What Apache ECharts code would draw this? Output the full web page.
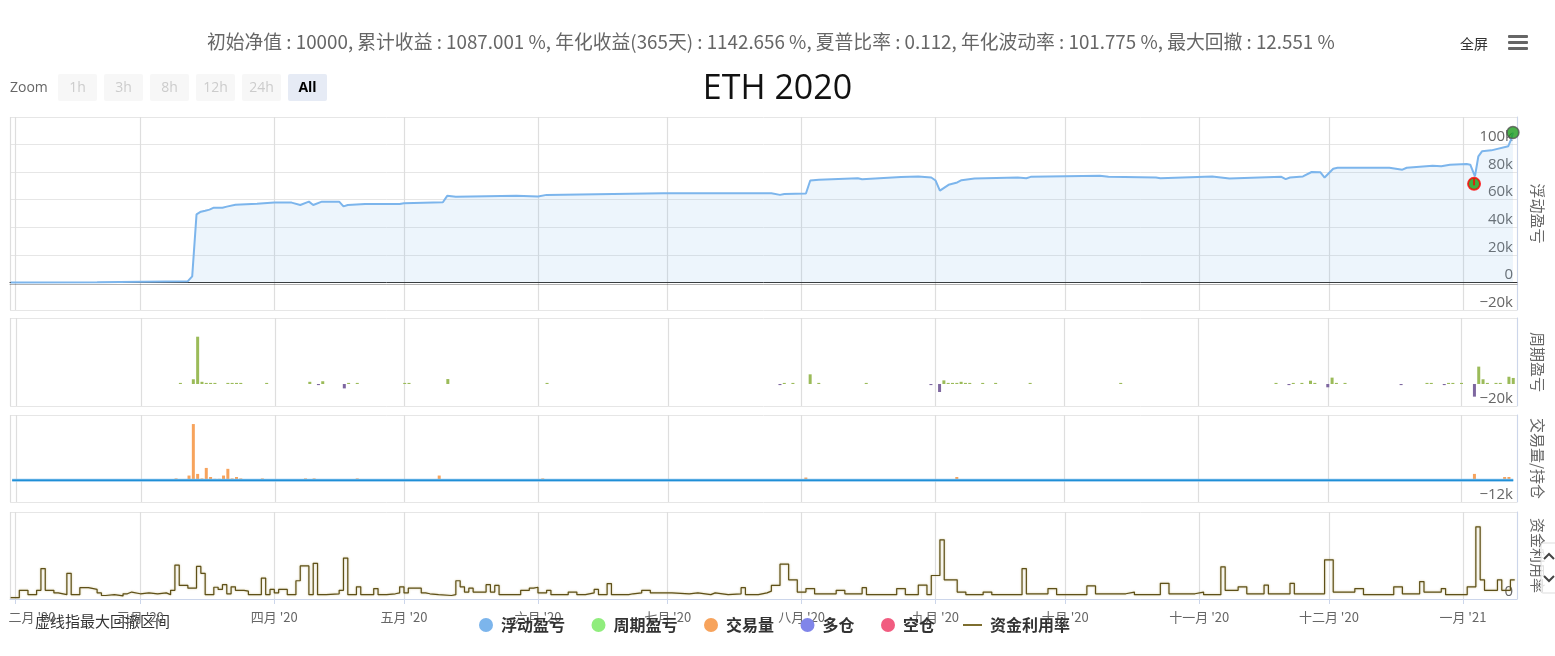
<!DOCTYPE html>
<html><head><meta charset="utf-8">
<script src="https://cdn.jsdelivr.net/npm/echarts/dist/echarts.min.js"></script>
<style>html,body{margin:0;padding:0;background:#fff}#c{width:1555px;height:656px}</style>
</head><body><div id="c"></div>
<script>
const FONT = '"Open Sans","Noto Sans CJK SC",sans-serif';
const CJK = '"Noto Sans CJK SC","Open Sans",sans-serif';
const MONTH_NAMES = ['一月','二月','三月','四月','五月','六月','七月','八月','九月','十月','十一月','十二月'];
const SUBTITLE = '初始净值 : 10000, 累计收益 : 1087.001 %, 年化收益(365天) : 1142.656 %, 夏普比率 : 0.112, 年化波动率 : 101.775 %, 最大回撤 : 12.551 %';
const TITLE = 'ETH 2020';
const NOTE = '虚线指最大回撤区间';
const ZOOM_BUTTONS = ['1h','3h','8h','12h','24h','All'];
const X_MIN = '2020-01-30 20:15';
const X_MAX = '2021-01-13 12:30';

// 浮动盈亏 (floating P&L)
const EQUITY_DATES = [
 '2020-01-31','2020-02-20','2020-03-12','2020-03-13','2020-03-14','2020-03-15','2020-03-16','2020-03-17','2020-03-18','2020-03-20',
 '2020-03-21','2020-03-23','2020-03-28','2020-04-01','2020-04-05','2020-04-07','2020-04-09','2020-04-10','2020-04-12','2020-04-16',
 '2020-04-17','2020-04-18','2020-04-22','2020-04-30','2020-05-01','2020-05-10','2020-05-11','2020-05-13','2020-05-27','2020-06-01',
 '2020-06-03','2020-06-30','2020-07-25','2020-07-27','2020-07-28','2020-08-02','2020-08-03','2020-08-05','2020-08-14','2020-08-15',
 '2020-08-24','2020-08-28','2020-08-31','2020-09-01','2020-09-02','2020-09-04','2020-09-06','2020-09-07','2020-09-10','2020-09-20',
 '2020-09-22','2020-09-23','2020-10-09','2020-10-11','2020-10-22','2020-10-23','2020-11-04','2020-11-08','2020-11-20','2020-11-21',
 '2020-11-22','2020-11-25','2020-11-27','2020-11-29','2020-11-30','2020-12-02','2020-12-03','2020-12-15','2020-12-18','2020-12-19',
 '2020-12-25','2020-12-27','2020-12-29','2021-01-01 21:00','2021-01-02 17:00','2021-01-03 19:00','2021-01-04 14:00','2021-01-05 10:00','2021-01-07 14:00','2021-01-11 12:00',
 '2021-01-12 04:00','2021-01-12 14:00'];
const EQUITY_VALUES = [
 0,200,900,4400,49400,51300,52000,52800,54200,54200,
 55000,56400,57100,57900,57900,56200,58600,56200,58600,58600,
 55200,56200,56900,56900,57400,58200,62800,62100,62800,62300,
 63500,64700,64700,63500,64200,64500,73900,74400,75600,74900,
 76400,76900,76100,73900,66600,70800,72500,74200,75400,76100,
 75600,76600,77400,76600,76100,75600,76900,75400,76600,74900,
 76100,76900,80100,80000,76100,82500,83200,83200,81800,83200,
 84700,84200,85400,85900,85400,77000,91500,95100,95800,98800,
 103700,108700];

// max drawdown markers
const MARKER_DATES = ['2021-01-03 14:00','2021-01-12 14:00'];
const MARKER_VALUES = [71500,108700];

// 周期盈亏 (period P&L)
const PNL_DATES = [
 '2020-03-10','2020-03-13','2020-03-14','2020-03-15','2020-03-16','2020-03-17','2020-03-18','2020-03-21','2020-03-22','2020-03-23',
 '2020-03-24','2020-03-30','2020-04-09','2020-04-11','2020-04-12','2020-04-17','2020-04-18','2020-04-20','2020-05-01','2020-05-02',
 '2020-05-11','2020-06-03','2020-07-27','2020-07-28','2020-07-30','2020-08-03','2020-08-05','2020-08-16','2020-08-31','2020-09-02',
 '2020-09-03','2020-09-04','2020-09-05','2020-09-06','2020-09-07','2020-09-08','2020-09-09','2020-09-12','2020-09-15','2020-09-23',
 '2020-10-14','2020-11-19','2020-11-22','2020-11-23','2020-11-25','2020-11-27','2020-11-28','2020-12-01','2020-12-02','2020-12-03',
 '2020-12-05','2020-12-18','2020-12-24','2020-12-25','2020-12-28','2020-12-29','2020-12-30','2021-01-01','2021-01-04','2021-01-05',
 '2021-01-06','2021-01-07','2021-01-09','2021-01-10','2021-01-12','2021-01-13'];
const PNL_VALUES = [
 1000,4300,43000,2000,1000,1000,1000,1000,1000,1000,
 1000,1000,2000,-1000,2500,-4000,1000,1000,1000,1000,
 4500,1000,-1000,1000,1000,8800,1000,1000,-1000,-7300,
 3300,1000,1000,1000,2000,1000,1000,1000,1000,1000,
 1000,1000,-1000,1000,1000,3000,1000,-3000,5800,1000,
 1000,-1000,1000,1000,-1000,1000,1000,1000,-11500,15800,
 4300,1000,1000,1000,6600,5500];

// 交易量 (volume)
const VOL_DATES = [
 '2020-02-17','2020-02-27','2020-03-09','2020-03-12','2020-03-13','2020-03-14','2020-03-15','2020-03-16','2020-03-17','2020-03-18',
 '2020-03-19','2020-03-20','2020-03-21','2020-03-22','2020-03-23','2020-03-24','2020-03-25','2020-03-26','2020-03-27','2020-03-28',
 '2020-03-29','2020-03-30','2020-04-02','2020-04-03','2020-04-06','2020-04-07','2020-04-08','2020-04-09','2020-04-10','2020-04-11',
 '2020-04-12','2020-04-13','2020-04-15','2020-04-16','2020-04-19','2020-04-20','2020-04-23','2020-04-27','2020-04-30','2020-05-01',
 '2020-05-04','2020-05-05','2020-05-07','2020-05-08','2020-05-09','2020-05-10','2020-05-11','2020-05-13','2020-05-15','2020-05-16',
 '2020-05-20','2020-05-21','2020-05-23','2020-05-25','2020-05-31','2020-06-01','2020-06-02','2020-06-09','2020-06-12','2020-06-15',
 '2020-06-16','2020-06-24','2020-06-28','2020-07-23','2020-07-26','2020-07-27','2020-07-28','2020-08-02','2020-08-03','2020-08-04',
 '2020-08-08','2020-08-12','2020-08-16','2020-08-17','2020-08-18','2020-08-19','2020-08-20','2020-08-22','2020-08-25','2020-08-26',
 '2020-09-02','2020-09-03','2020-09-04','2020-09-05','2020-09-06','2020-09-07','2020-09-08','2020-09-09','2020-09-13','2020-09-14',
 '2020-09-16','2020-09-17','2020-09-21','2020-09-22','2020-09-24','2020-10-02','2020-10-07','2020-10-27','2020-10-30','2020-11-05',
 '2020-11-06','2020-11-07','2020-11-08','2020-11-18','2020-11-22','2020-11-23','2020-11-24','2020-11-26','2020-11-27','2020-12-01',
 '2020-12-05','2020-12-08','2020-12-11','2020-12-18','2020-12-21','2020-12-23','2020-12-28','2020-12-29','2021-01-01','2021-01-02',
 '2021-01-04','2021-01-05','2021-01-06','2021-01-07','2021-01-08','2021-01-09','2021-01-11','2021-01-12'];
const VOL_VALUES = [
 700,700,1000,2600,31000,3500,1000,6800,1800,800,
 800,2600,6300,1000,1800,1000,700,700,700,700,
 1000,700,700,700,700,700,1000,700,1000,700,
 700,700,700,700,700,1000,700,700,700,700,
 700,700,700,700,2600,700,700,700,700,700,
 700,700,700,700,700,700,1000,700,700,700,
 700,700,700,700,700,700,700,1500,700,700,
 700,700,700,700,700,700,700,700,700,700,
 700,700,700,700,1800,700,700,700,700,700,
 700,700,700,700,700,700,700,700,700,700,
 700,700,700,700,700,700,700,700,700,700,
 700,700,700,700,700,700,700,700,700,700,
 3500,700,700,700,700,700,1800,1800];

// 多仓 / 空仓 (positions)
const POS_DATES = ['2020-01-31','2021-01-13'];
const LONG_POS = [0,0];
const SHORT_POS = [0,0];

// 资金利用率 (capital utilisation, %)
const UTIL_DATES = [
 '2020-01-31','2020-02-02','2020-02-04','2020-02-06','2020-02-07','2020-02-08','2020-02-10','2020-02-11','2020-02-13','2020-02-14',
 '2020-02-16','2020-02-18','2020-02-20','2020-02-21','2020-02-22','2020-02-24','2020-02-26','2020-02-27','2020-02-28','2020-03-01',
 '2020-03-03','2020-03-05','2020-03-07','2020-03-08','2020-03-09','2020-03-10','2020-03-12','2020-03-14','2020-03-15','2020-03-16',
 '2020-03-18','2020-03-19','2020-03-20','2020-03-21','2020-03-22','2020-03-23','2020-03-25','2020-03-26','2020-03-29','2020-03-30',
 '2020-03-31','2020-04-01','2020-04-02','2020-04-04','2020-04-06','2020-04-07','2020-04-09','2020-04-10','2020-04-11','2020-04-13',
 '2020-04-16','2020-04-17','2020-04-18','2020-04-20','2020-04-21','2020-04-24','2020-04-25','2020-04-27','2020-04-29','2020-04-30',
 '2020-05-01','2020-05-02','2020-05-05','2020-05-06','2020-05-07','2020-05-09','2020-05-12','2020-05-13','2020-05-14','2020-05-15',
 '2020-05-16','2020-05-17','2020-05-20','2020-05-21','2020-05-22','2020-05-23','2020-05-28','2020-05-30','2020-05-31','2020-06-01',
 '2020-06-03','2020-06-04','2020-06-08','2020-06-10','2020-06-12','2020-06-14','2020-06-15','2020-06-17','2020-06-18','2020-06-22',
 '2020-06-23','2020-06-25','2020-06-27','2020-07-02','2020-07-06','2020-07-08','2020-07-11','2020-07-12','2020-07-15','2020-07-18',
 '2020-07-19','2020-07-22','2020-07-24','2020-07-25','2020-07-27','2020-07-29','2020-07-31','2020-08-02','2020-08-04','2020-08-09',
 '2020-08-11','2020-08-15','2020-08-16','2020-08-23','2020-08-25','2020-08-28','2020-08-30','2020-08-31','2020-09-02','2020-09-03',
 '2020-09-06','2020-09-08','2020-09-12','2020-09-14','2020-09-21','2020-09-22','2020-09-27','2020-09-29','2020-10-06','2020-10-08',
 '2020-10-15','2020-10-17','2020-10-23','2020-10-25','2020-10-31','2020-11-02','2020-11-06','2020-11-07','2020-11-10','2020-11-12',
 '2020-11-16','2020-11-17','2020-11-22','2020-11-23','2020-11-30','2020-12-02','2020-12-07','2020-12-09','2020-12-16','2020-12-18',
 '2020-12-22','2020-12-23','2020-12-27','2020-12-28','2021-01-02','2021-01-04','2021-01-05','2021-01-06','2021-01-09','2021-01-10',
 '2021-01-12','2021-01-13'];
const UTIL_VALUES = [
 1.5,10,5,10,35,10,7,5,29.5,5,
 13,11,7,4,5,3.5,6,8,6,7,
 6,7,5,10,39,15.6,12.5,37.5,29.5,5,
 13.5,11,16.5,6,14,10,9,5,24,5,
 11,7,11,5,21,38,5,41,5,6,
 10,47,5,14,5,12,5,6,7,14,
 7,12.5,7,6,5,4,5,21,14,8,
 12.5,8,16.5,8,15.6,5,10,12.5,13.5,7,
 10,5,8,5,7,11,5,17.7,5,6,
 7,10,7,6,7,5,7,5,6,13,
 5,7,9,15.6,40,22,8,12,6,10,
 6,13,5,12,5,16,5,27,68,22,
 8,5,8,5,35,6,12,5,15,6,
 8,5,18,6,8,5,37,10,14,6,
 16,6,18,6,45,8,12,5,14,6,
 20,8,12,5,14,83,22,10,22,10,
 22,22];

const pairs = (ds, vs) => ds.map((d, i) => [d, vs[i]]);
const kFmt = v => v === 0 ? '0' : (v < 0 ? '−' : '') + Math.abs(v) / 1000 + 'k';
const FIRST_TICK = new Date('2020-02-01 00:00').getTime();
const monthFmt = v => {
  const d = new Date(v);
  const s = MONTH_NAMES[d.getMonth()] + " '" + String(d.getFullYear()).slice(2);
  return Math.abs(v - FIRST_TICK) < 864e5 ? '{first|' + s + '}' : s;
};

const GRIDS = [
  {top: 117, height: 193},
  {top: 318, height: 88},
  {top: 415, height: 87},
  {top: 512, height: 87}
];
const Y_SPECS = [
  {min: -20000, max: 120000, interval: 20000, name: '浮动盈亏'},
  {min: -20000, max: 60000, interval: 20000, name: '周期盈亏'},
  {min: -12000, max: 36000, interval: 12000, name: '交易量/持仓'},
  {min: 0, max: 100, interval: 100, name: '资金利用率'}
];
const T = 'rgba(0,0,0,0)';
const SPLIT_COLORS = [
  '#e6e6e6',
  ['#e6e6e6', T, T, T, '#e6e6e6'],
  ['#e6e6e6', T, T, T, '#e6e6e6'],
  '#e6e6e6'
];

const xAxes = GRIDS.map((g, i) => ({
  type: 'time', gridIndex: i, min: X_MIN, max: X_MAX,
  minInterval: 28 * 864e5, maxInterval: 31 * 864e5,
  splitLine: {show: true, lineStyle: {color: '#dedede', width: 1.2}},
  axisTick: {show: i === 3, length: 5, lineStyle: {color: '#ccd6eb'}},
  axisLabel: {show: i === 3, formatter: monthFmt, color: '#666', fontSize: 13, margin: 12, fontFamily: CJK, hideOverlap: false,
    rich: {first: {padding: [0, 0, 0, 34], color: '#666', fontSize: 13, fontFamily: CJK}}},
  axisLine: i === 0 ? {show: true, onZero: true, lineStyle: {color: '#333', width: 1, shadowColor: 'rgba(0,0,0,0.3)', shadowOffsetY: 2}}
          : i === 3 ? {show: true, lineStyle: {color: '#ccd6eb', width: 1}}
          : {show: false}
}));

const yAxes = Y_SPECS.map((s, i) => ({
  type: 'value', gridIndex: i, position: 'right', min: s.min, max: s.max, interval: s.interval,
  splitLine: {show: true, lineStyle: {color: SPLIT_COLORS[i], width: 1}},
  axisLine: {show: true, onZero: false, lineStyle: {color: '#ccd6eb'}},
  axisTick: {show: false},
  axisLabel: {
    inside: true, margin: 4, color: '#666', fontSize: 15, fontFamily: FONT, verticalAlign: 'bottom',
    showMaxLabel: false,
    formatter: v => (i === 0 || v === s.min) ? kFmt(v) : ''
  },
  name: s.name, nameLocation: 'middle', nameRotate: -90, nameGap: 13,
  nameTextStyle: {color: '#666', fontSize: 15, fontFamily: CJK}
}));

const graphic = [
  {type: 'text', x: 10, y: 88, style: {text: 'Zoom', fill: '#666', font: '14px ' + FONT, verticalAlign: 'middle'}}
];
ZOOM_BUTTONS.forEach((b, i) => {
  const x = 58 + i * 46, sel = b === 'All';
  graphic.push({type: 'rect', shape: {x: x, y: 74, width: 39, height: 27, r: 2}, style: {fill: sel ? '#e6ebf5' : '#f7f7f7'}});
  graphic.push({type: 'text', x: x + 19.5, y: 88, style: {text: b, fill: sel ? '#000' : '#cccccc', font: (sel ? 'bold ' : '') + '14px ' + FONT, align: 'center', verticalAlign: 'middle'}});
});
graphic.push({type: 'text', x: 1474, y: 44, style: {text: '全屏', fill: '#333', font: '14px ' + CJK, align: 'center', verticalAlign: 'middle'}});
[0, 1, 2].forEach(k => graphic.push({type: 'rect', shape: {x: 1508, y: 35 + k * 6, width: 20, height: 3, r: 1}, style: {fill: '#666'}}));
graphic.push({type: 'text', x: 35, y: 621, style: {text: NOTE, fill: '#333', font: '15px ' + CJK, verticalAlign: 'middle'}});
graphic.push({type: 'rect', shape: {x: 1541, y: 543, width: 16, height: 50, r: 2}, style: {fill: 'rgba(255,255,255,0.8)', stroke: '#ddd'}, z: 100});
graphic.push({type: 'polyline', shape: {points: [[1544, 559], [1549, 554], [1554, 559]]}, style: {stroke: '#444', lineWidth: 2, fill: null}, z: 101});
graphic.push({type: 'polyline', shape: {points: [[1544, 576], [1549, 581], [1554, 576]]}, style: {stroke: '#444', lineWidth: 2, fill: null}, z: 101});

const LEGEND_TEXT = {fontSize: 16, fontWeight: 'bold', color: '#333', fontFamily: CJK};

const chart = echarts.init(document.getElementById('c'), null, {renderer: 'canvas'});
chart.setOption({
  animation: false,
  backgroundColor: '#fff',
  textStyle: {fontFamily: FONT},
  title: [
    {text: SUBTITLE, left: 202, top: 27, textStyle: {fontSize: 18.8, fontWeight: 'normal', color: '#666', fontFamily: CJK}},
    {text: TITLE, left: 'center', top: 67, textStyle: {fontSize: 34, fontWeight: 'normal', color: '#111', fontFamily: FONT}}
  ],
  legend: [
    {
      top: 617, left: 479, padding: 0, itemWidth: 20, itemHeight: 14, itemGap: 26.5,
      textStyle: LEGEND_TEXT,
      data: [
        {name: '浮动盈亏', icon: 'circle', itemStyle: {color: '#7cb5ec'}},
        {name: '周期盈亏', icon: 'circle', itemStyle: {color: '#90ed7d'}},
        {name: '交易量', icon: 'circle', itemStyle: {color: '#f7a35c'}},
        {name: '多仓', icon: 'circle', itemStyle: {color: '#8085e9'}},
        {name: '空仓', icon: 'circle', itemStyle: {color: '#f15c80'}}
      ]
    },
    {
      top: 617, left: 963, padding: 0, itemWidth: 19, itemHeight: 2,
      textStyle: Object.assign({padding: [0, 0, 0, 3]}, LEGEND_TEXT),
      data: [{name: '资金利用率', icon: 'rect', itemStyle: {color: '#7d6e2f'}}]
    }
  ],
  grid: GRIDS.map(g => ({left: 10, right: 38, top: g.top, height: g.height, outerBoundsMode: 'none', containLabel: false})),
  xAxis: xAxes,
  yAxis: yAxes,
  graphic: graphic,
  series: [
    {name: '浮动盈亏', type: 'line', xAxisIndex: 0, yAxisIndex: 0, data: pairs(EQUITY_DATES, EQUITY_VALUES),
     symbol: 'none', lineStyle: {color: '#7cb5ec', width: 2}, itemStyle: {color: '#7cb5ec'},
     areaStyle: {color: 'rgba(124,181,236,0.2)'}},
    {name: '回撤', type: 'scatter', xAxisIndex: 0, yAxisIndex: 0, z: 5, clip: false,
     data: [
       {value: [MARKER_DATES[0], MARKER_VALUES[0]], symbol: 'circle', symbolSize: 12, itemStyle: {color: '#12a012', borderColor: '#ff0000', borderWidth: 2}},
       {value: [MARKER_DATES[0], MARKER_VALUES[0]], symbol: 'rect', symbolSize: [2, 7], symbolOffset: [0, -2], itemStyle: {color: '#ff0000'}},
       {value: [MARKER_DATES[1], MARKER_VALUES[1]], symbol: 'circle', symbolSize: 12, itemStyle: {color: '#1c9c1c', borderColor: '#555', borderWidth: 1.5}}
     ]},
    {name: '周期盈亏', type: 'bar', xAxisIndex: 1, yAxisIndex: 1, data: pairs(PNL_DATES, PNL_VALUES), barWidth: 3,
     itemStyle: {color: p => p.value[1] < 0 ? '#7e67a0' : '#9bbb59'}},
    {name: '多仓', type: 'line', xAxisIndex: 2, yAxisIndex: 2, data: pairs(POS_DATES, LONG_POS), symbol: 'none',
     lineStyle: {color: '#8cc4ee', width: 3}, itemStyle: {color: '#8085e9'}},
    {name: '空仓', type: 'line', xAxisIndex: 2, yAxisIndex: 2, data: pairs(POS_DATES, SHORT_POS), symbol: 'none',
     lineStyle: {color: '#1f8fd6', width: 1.6}, itemStyle: {color: '#f15c80'}},
    {name: '交易量', type: 'bar', xAxisIndex: 2, yAxisIndex: 2, data: pairs(VOL_DATES, VOL_VALUES), barWidth: 3,
     itemStyle: {color: '#f7a35c'}},
    {name: '资金利用率', type: 'line', step: 'end', xAxisIndex: 3, yAxisIndex: 3, data: pairs(UTIL_DATES, UTIL_VALUES),
     symbol: 'none', lineStyle: {color: '#5e5018', width: 1.2, shadowColor: 'rgba(170,150,70,0.6)', shadowBlur: 2},
     itemStyle: {color: '#7d6e2f'}}
  ]
});
</script></body></html>
